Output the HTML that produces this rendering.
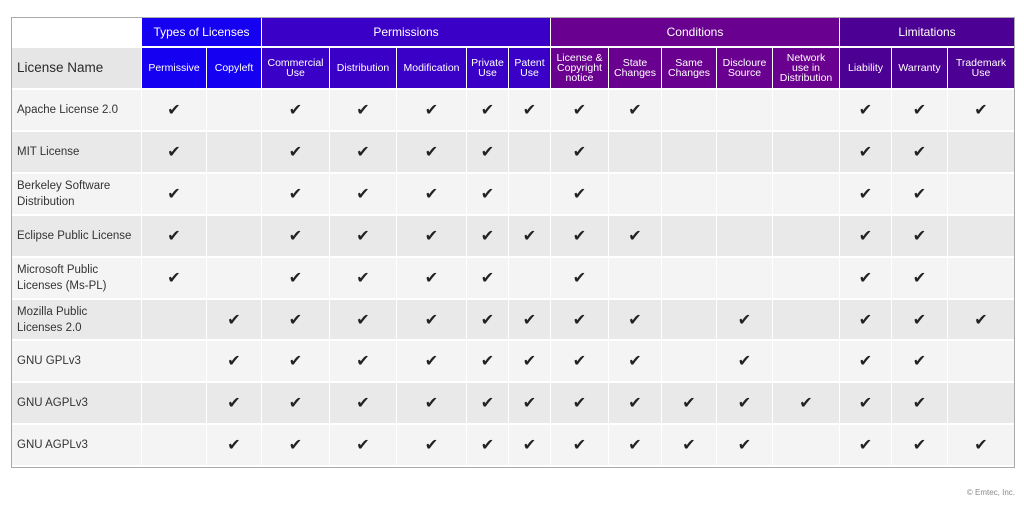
<!DOCTYPE html>
<html><head><meta charset="utf-8"><style>
body{margin:0;width:1024px;height:515px;background:#fff;font-family:"Liberation Sans",sans-serif;position:relative;overflow:hidden}
.c{position:absolute;box-sizing:border-box;display:flex;align-items:center;justify-content:center;text-align:center;border-right:1px solid #fff;border-bottom:2px solid #fff}
.h{color:#fff;font-size:10.5px;line-height:10px}
.g{color:#fff;font-size:12px}
.n{justify-content:flex-start;padding-left:6px;text-align:left;font-size:11.5px;color:#333;line-height:16px}
.k{font-size:16px;color:#222}
</style></head><body>
<div id="t"></div>
<div style="position:absolute;left:11px;top:17px;width:1004px;height:451px;border:1px solid #aaa;box-sizing:border-box;pointer-events:none"></div>
<div style="position:absolute;right:9px;top:488px;font-size:8px;color:#888">© Emtec, Inc.</div>
<script>
var X=[11,142,207,262,330,397,467,509,551,609,662,717,773,840,892,948,1015];
var cols=["","Permissive","Copyleft","Commercial<br>Use","Distribution","Modification","Private<br>Use","Patent<br>Use","License &amp;<br>Copyright<br>notice","State<br>Changes","Same<br>Changes","Discloure<br>Source","Network<br>use in<br>Distribution","Liability","Warranty","Trademark<br>Use"];
function col(i){return i<=2?"#1600f2":i<=7?"#3a00c8":i<=12?"#6a0090":"#4c0094";}
var h="";
function cell(x0,x1,y0,y1,bg,cls,txt){h+='<div class="c '+cls+'" style="left:'+x0+'px;top:'+y0+'px;width:'+(x1-x0)+'px;height:'+(y1-y0)+'px;background:'+bg+'">'+txt+'</div>';}
cell(11,142,17,48,"#fff","","");
[[1,2,"Types of Licenses"],[3,7,"Permissions"],[8,12,"Conditions"],[13,15,"Limitations"]].forEach(function(g){cell(X[g[0]],X[g[1]+1],17,48,col(g[0]),"g",g[2]);});
cell(11,142,48,90,"#e6e6e6","n",'<span style="font-size:13.5px;color:#2a2a2a">License Name</span>');
for(var i=1;i<16;i++)cell(X[i],X[i+1],48,90,col(i),"h",cols[i]);
var rows=[["Apache License 2.0",[1,3,4,5,6,7,8,9,13,14,15]],["MIT License",[1,3,4,5,6,8,13,14]],["Berkeley Software<br>Distribution",[1,3,4,5,6,8,13,14]],["Eclipse Public License",[1,3,4,5,6,7,8,9,13,14]],["Microsoft Public<br>Licenses (Ms-PL)",[1,3,4,5,6,8,13,14]],["Mozilla Public<br>Licenses 2.0",[2,3,4,5,6,7,8,9,11,13,14,15]],["GNU GPLv3",[2,3,4,5,6,7,8,9,11,13,14]],["GNU AGPLv3",[2,3,4,5,6,7,8,9,10,11,12,13,14]],["GNU AGPLv3",[2,3,4,5,6,7,8,9,10,11,13,14,15]]];
rows.forEach(function(r,j){var y0=Math.round(90+j*41.9),y1=Math.round(90+(j+1)*41.9);var bg=j%2?"#e9e9e9":"#f4f4f4";
cell(11,142,y0,y1,bg,"n",r[0]);
for(var i=1;i<16;i++)cell(X[i],X[i+1],y0,y1,bg,"k",r[1].indexOf(i)>=0?"✔":"");});
document.getElementById("t").innerHTML=h;
</script>
</body></html>
